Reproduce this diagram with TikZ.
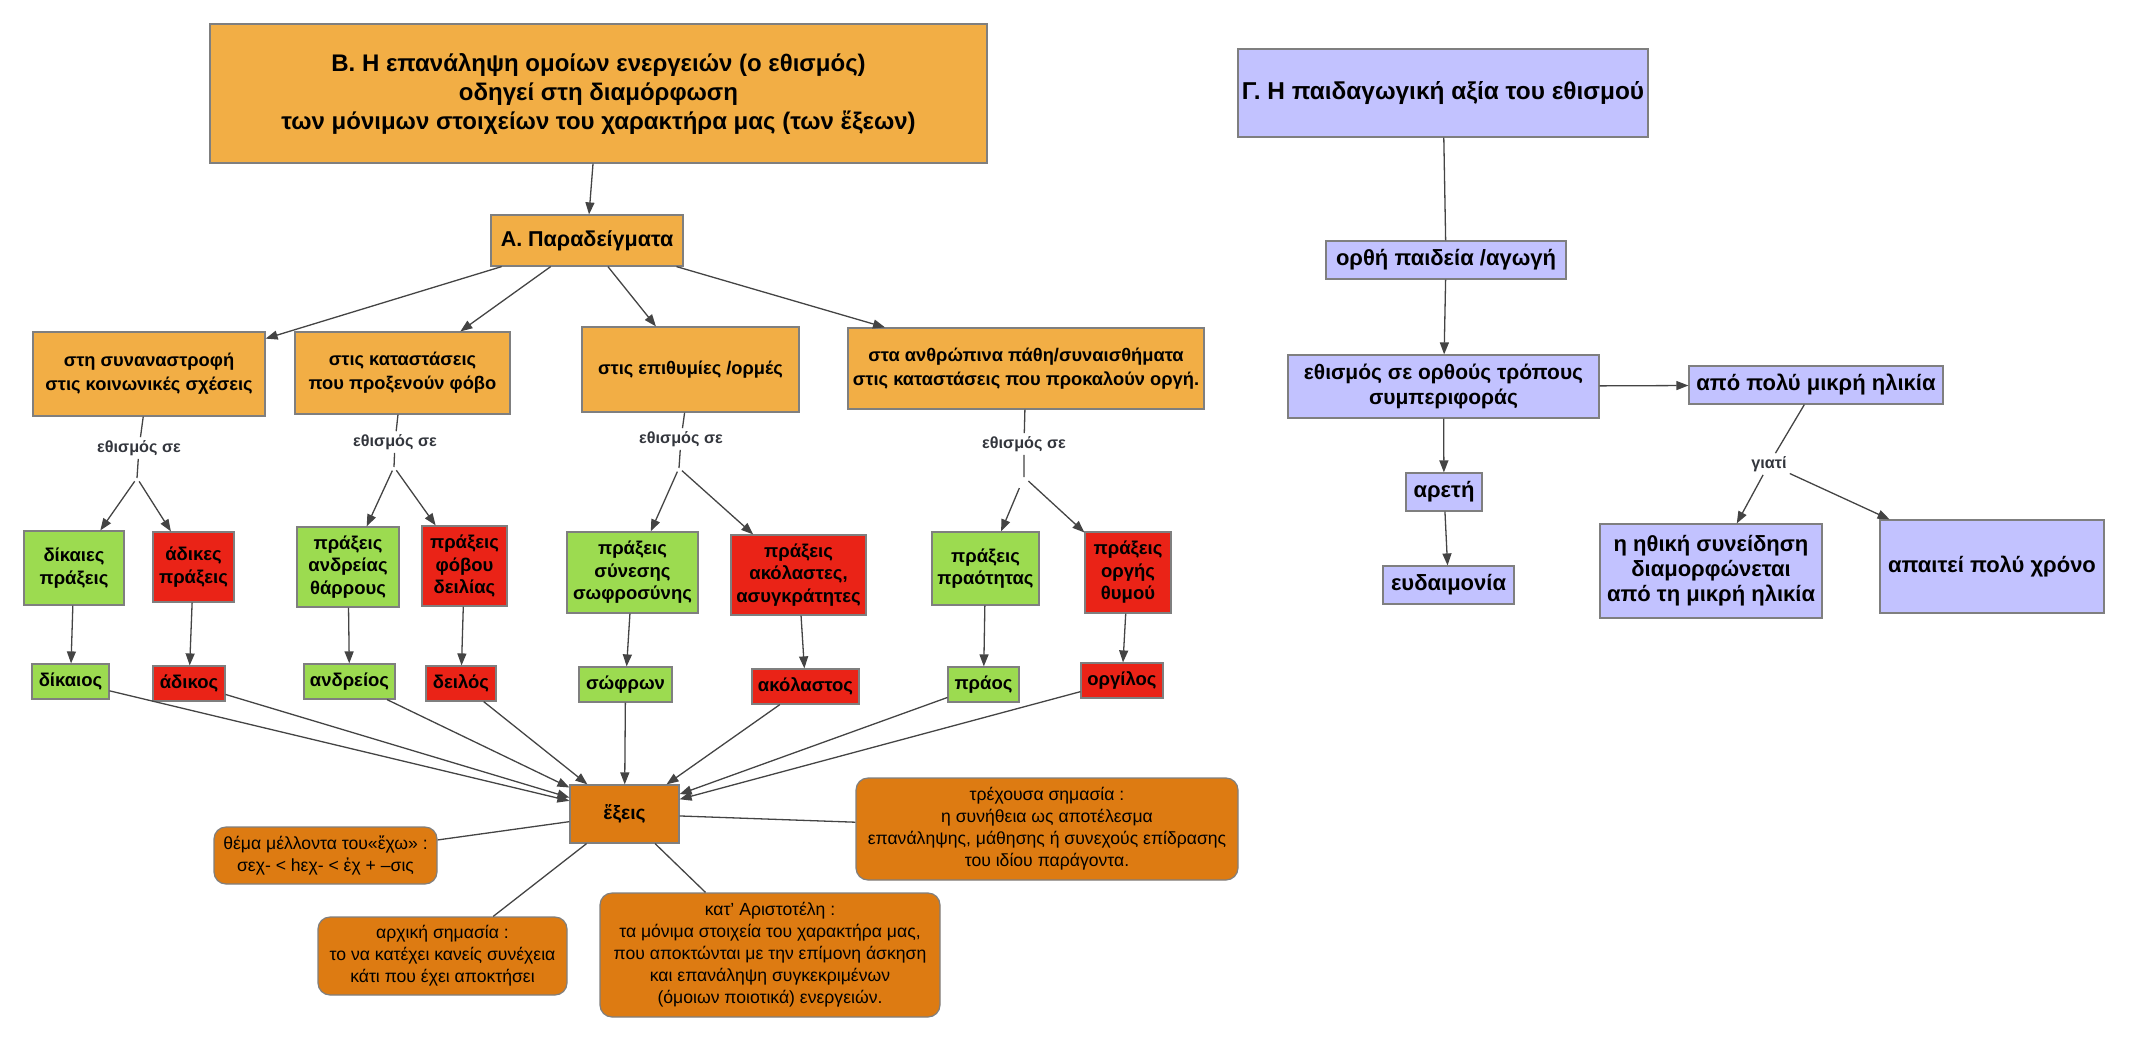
\documentclass[tikz,border=0pt]{standalone}
\usepackage{fontspec}
\setmainfont{Liberation Sans}
\usetikzlibrary{arrows.meta}

\definecolor{topicorange}{HTML}{F2AE45}
\definecolor{goodgreen}{HTML}{9CDB50}
\definecolor{badred}{HTML}{EA2317}
\definecolor{noteorange}{HTML}{DD7B12}
\definecolor{lavender}{HTML}{C2C2FF}
\definecolor{bordergray}{HTML}{7F7F7F}
\definecolor{linegray}{HTML}{444444}
\definecolor{phrasegray}{HTML}{33363D}

\begin{document}
\begin{tikzpicture}[x=1pt,y=-1pt,
    wh/.style 2 args={minimum width=#1pt,minimum height=#2pt},
    box/.style={draw=bordergray,line width=1.2pt,align=center,inner sep=2pt,
      font=\bfseries\fontsize{18.5}{22.5}\selectfont},
    topic/.style={box,fill=topicorange},
    good/.style={box,fill=goodgreen},
    bad/.style={box,fill=badred},
    note/.style={box,fill=noteorange,rounded corners=12pt,font=\fontsize{17.6}{22}\selectfont},
    value/.style={box,fill=lavender,font=\bfseries\fontsize{22}{25}\selectfont},
    phrase/.style={inner sep=3pt,text=phrasegray,font=\bfseries\fontsize{16.2}{18}\selectfont},
    link/.style={draw=linegray,line width=1.3pt},
    arrow/.style={link,-{Stealth[inset=0pt,length=12pt,width=9pt]}}]
        \useasboundingbox (0,0) rectangle (2129,1042);

        % Main concept and examples
        \node[topic,wh={777}{139},font=\bfseries\fontsize{24}{29}\selectfont] (habit) at (598.5,93.5)
          {Β. Η επανάληψη ομοίων ενεργειών (ο εθισμός)\\ οδηγεί στη διαμόρφωση\\ των μόνιμων στοιχείων του χαρακτήρα μας (των ἕξεων)};
        \node[topic,wh={192}{51},font=\bfseries\fontsize{21.5}{25}\selectfont] (examples) at (587,240.5) {Α. Παραδείγματα};

        \node[topic,wh={232}{84},font=\bfseries\fontsize{18.3}{24}\selectfont] (social) at (149,374) {στη συναναστροφή\\στις κοινωνικές σχέσεις};
        \node[topic,wh={215}{82},font=\bfseries\fontsize{18.3}{24}\selectfont] (fear) at (402.5,373) {στις καταστάσεις\\που προξενούν φόβο};
        \node[topic,wh={217}{85},font=\bfseries\fontsize{18.3}{24}\selectfont] (desire) at (690.5,369.5) {στις επιθυμίες /ορμές};
        \node[topic,wh={356}{81},font=\bfseries\fontsize{18.3}{24}\selectfont] (anger) at (1026,368.5) {στα ανθρώπινα πάθη/συναισθήματα\\στις καταστάσεις που προκαλούν οργή.};

        % Linking phrases
        \node[phrase] (ph1) at (139,448) {εθισμός σε};
        \node[phrase] (ph2) at (395,442) {εθισμός σε};
        \node[phrase] (ph3) at (681,439) {εθισμός σε};
        \node[phrase] (ph4) at (1024,444) {εθισμός σε};
        \coordinate (j1) at (137,478);
        \coordinate (j2) at (394,467);
        \coordinate (j3) at (679,468);
        \coordinate (j4) at (1024,477);

        % Actions
        \node[good,wh={100}{74}] (justAct) at (74,568) {δίκαιες\\πράξεις};
        \node[bad,wh={81}{70}] (unjustAct) at (193.5,567) {άδικες\\πράξεις};
        \node[good,wh={102}{80}] (braveAct) at (348,567) {πράξεις\\ανδρείας\\θάρρους};
        \node[bad,wh={85}{80}] (cowardAct) at (464.5,566) {πράξεις\\φόβου\\δειλίας};
        \node[good,wh={131}{81}] (temperAct) at (632.5,572.5) {πράξεις\\σύνεσης\\σωφροσύνης};
        \node[bad,wh={135}{80}] (licenAct) at (798.5,575) {πράξεις\\ακόλαστες,\\ασυγκράτητες};
        \node[good,wh={107}{73}] (gentleAct) at (985.5,568.5) {πράξεις\\πραότητας};
        \node[bad,wh={86}{81}] (angryAct) at (1128,572.5) {πράξεις\\οργής\\θυμού};

        % Resulting dispositions
        \node[good,wh={77}{35}] (just) at (70.5,681.5) {δίκαιος};
        \node[bad,wh={72}{35}] (unjust) at (189,683.5) {άδικος};
        \node[good,wh={91}{35}] (brave) at (349.5,681.5) {ανδρείος};
        \node[bad,wh={70}{35}] (coward) at (461,683.5) {δειλός};
        \node[good,wh={93}{35}] (temper) at (625.5,684.5) {σώφρων};
        \node[bad,wh={107}{35}] (licen) at (805.5,686.5) {ακόλαστος};
        \node[good,wh={71}{35}] (gentle) at (983.5,684.5) {πράος};
        \node[bad,wh={82}{35}] (angry) at (1122,680.5) {οργίλος};

        % Hexeis and notes
        \node[box,fill=noteorange,wh={109}{58},font=\bfseries\fontsize{19.3}{23}\selectfont] (hexeis) at (624.5,814) {ἕξεις};
        \node[note,wh={223}{57}] (future) at (325.5,855.5) {θέμα μέλλοντα του«ἔχω» :\\ σεχ- < hεχ- < ἐχ + –σις};
        \node[note,wh={249}{78}] (original) at (442.5,956) {αρχική σημασία :\\το να κατέχει κανείς συνέχεια\\κάτι που έχει αποκτήσει};
        \node[note,wh={340}{124}] (aristotle) at (770,955) {κατ' Αριστοτέλη :\\τα μόνιμα στοιχεία του χαρακτήρα μας,\\που αποκτώνται με την επίμονη άσκηση\\και επανάληψη συγκεκριμένων\\(όμοιων ποιοτικά) ενεργειών.};
        \node[note,wh={382}{102}] (current) at (1047,829) {τρέχουσα σημασία :\\η συνήθεια ως αποτέλεσμα\\επανάληψης, μάθησης ή συνεχούς επίδρασης\\του ιδίου παράγοντα.};

        % Connectors, left map
        \draw[arrow] (habit) -- (examples);
        \foreach \n in {social,fear,desire,anger} {
          \draw[arrow] (examples) -- (\n);
        }
        \draw[link] (social) -- (ph1) -- (j1);
        \draw[link] (fear) -- (ph2) -- (j2);
        \draw[link] (desire) -- (ph3) -- (j3);
        \draw[link] (anger) -- (ph4) -- (j4);
        \draw[arrow,shorten <=4pt] (j1) -- (justAct);
        \draw[arrow,shorten <=4pt] (j1) -- (unjustAct);
        \draw[arrow,shorten <=4pt] (j2) -- (braveAct);
        \draw[arrow,shorten <=4pt] (j2) -- (cowardAct);
        \draw[arrow,shorten <=4pt] (j3) -- (temperAct);
        \draw[arrow,shorten <=4pt] (j3) -- (licenAct);
        \draw[arrow,shorten <=12pt] (j4) -- (gentleAct);
        \draw[arrow,shorten <=6pt] (j4) -- (angryAct);
        \foreach \a/\b in {justAct/just,unjustAct/unjust,braveAct/brave,cowardAct/coward,
                           temperAct/temper,licenAct/licen,gentleAct/gentle,angryAct/angry} {
          \draw[arrow] (\a) -- (\b);
        }
        \foreach \n in {just,unjust,brave,coward,temper,licen,gentle,angry} {
          \draw[arrow] (\n) -- (hexeis);
        }
        \foreach \n in {future,original,aristotle,current} {
          \draw[link] (hexeis) -- (\n);
        }

        % Pedagogical value
        \node[value,wh={410}{88},font=\bfseries\fontsize{24.4}{28}\selectfont] (value) at (1443,93) {Γ. Η παιδαγωγική αξία του εθισμού};
        \node[value,wh={240}{38}] (upbringing) at (1446,260) {ορθή παιδεία /αγωγή};
        \node[value,wh={311}{63},font=\bfseries\fontsize{21}{25}\selectfont] (rightWays) at (1443.5,386.5) {εθισμός σε ορθούς τρόπους\\συμπεριφοράς};
        \node[value,wh={254}{38}] (early) at (1816,385) {από πολύ μικρή ηλικία};
        \node[value,wh={76}{38}] (virtue) at (1444,492) {αρετή};
        \node[value,wh={131}{38}] (happiness) at (1448.5,585) {ευδαιμονία};
        \node[phrase] (why) at (1769,464) {γιατί};
        \node[value,wh={222}{94}] (conscience) at (1711,571) {η ηθική συνείδηση\\διαμορφώνεται\\από τη μικρή ηλικία};
        \node[value,wh={224}{93}] (time) at (1992,566.5) {απαιτεί πολύ χρόνο};

        \draw[link] (value) -- (upbringing);
        \draw[arrow] (upbringing) -- (rightWays);
        \draw[arrow] (rightWays) -- (early);
        \draw[arrow] (rightWays) -- (virtue);
        \draw[arrow] (virtue) -- (happiness);
        \draw[link] (early) -- (why);
        \draw[arrow] (why) -- (conscience);
        \draw[arrow] (why) -- (time);

\end{tikzpicture}
\end{document}
